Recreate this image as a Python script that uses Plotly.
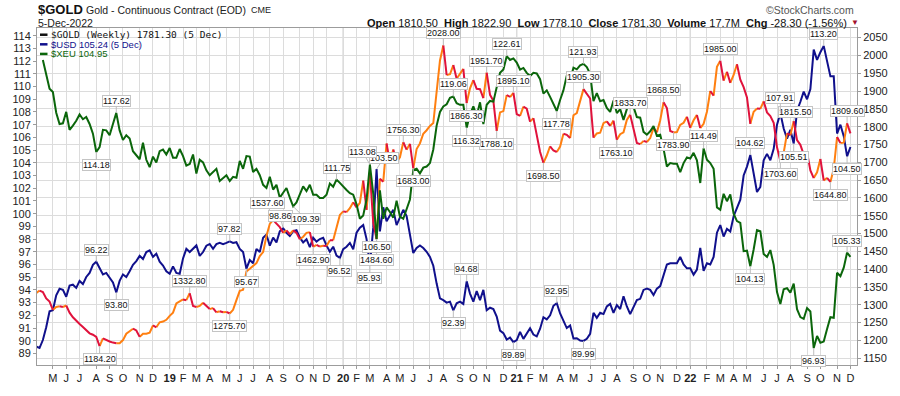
import plotly.graph_objects as go
import pandas as pd

# ---------------- data (weekly, Monday of each week) ----------------
week_start = "2018-04-02"
n_weeks = 245

gold = [1333.0, 1340.0, 1336.0, 1318.0, 1309.0, 1286.0, 1294.0, 1296.0, 1294.0, 1298.0,
        1278.0, 1265.0, 1254.0, 1246.0, 1238.0, 1229.0, 1220.0, 1216.0, 1210.0, 1184.2,
        1206.0, 1201.0, 1197.0, 1194.0, 1192.0, 1192.0, 1201.0, 1219.0, 1226.0, 1233.0,
        1228.0, 1210.0, 1219.0, 1219.0, 1222.0, 1242.0, 1237.0, 1251.0, 1253.0, 1258.0,
        1269.0, 1278.0, 1304.0, 1309.0, 1315.0, 1313.0, 1332.8, 1297.0, 1294.0, 1297.0,
        1306.0, 1297.0, 1288.0, 1291.0, 1279.0, 1282.0, 1279.0, 1280.0, 1275.7, 1286.0,
        1313.0, 1339.0, 1342.0, 1394.0, 1401.0, 1408.0, 1417.0, 1437.0, 1448.0, 1493.0,
        1527.0, 1537.6, 1527.0, 1518.0, 1502.0, 1509.0, 1498.0, 1509.0, 1502.0, 1484.0,
        1491.0, 1502.0, 1504.0, 1462.9, 1468.5, 1463.6, 1465.6, 1465.1, 1481.2, 1481.1,
        1515.1, 1552.4, 1562.3, 1560.3, 1571.4, 1587.9, 1573.4, 1586.4, 1648.8, 1566.7,
        1672.4, 1529.8, 1484.6, 1654.1, 1645.7, 1752.8, 1698.9, 1735.6, 1700.9, 1713.9,
        1756.3, 1735.5, 1751.7, 1683.0, 1737.3, 1753.0, 1780.3, 1790.0, 1801.9, 1810.0,
        1897.5, 1985.9, 2028.0, 1944.7, 1947.0, 1972.9, 1934.3, 1947.9, 1962.1, 1866.3,
        1907.6, 1930.4, 1906.4, 1905.2, 1879.9, 1951.7, 1889.3, 1872.4, 1788.1, 1840.0,
        1843.6, 1888.9, 1883.2, 1895.1, 1835.4, 1830.0, 1856.0, 1850.3, 1814.1, 1824.0,
        1777.4, 1728.8, 1698.5, 1719.0, 1745.0, 1733.1, 1729.0, 1744.0, 1780.0, 1777.0,
        1768.0, 1832.0, 1838.0, 1876.0, 1905.3, 1892.0, 1879.0, 1769.0, 1781.0, 1783.0,
        1810.0, 1815.0, 1802.0, 1817.0, 1763.1, 1779.0, 1784.0, 1819.0, 1833.7, 1792.0,
        1754.0, 1751.0, 1760.0, 1757.0, 1768.0, 1796.0, 1784.0, 1818.0, 1868.5, 1852.0,
        1788.0, 1783.9, 1784.8, 1805.0, 1811.0, 1828.0, 1797.0, 1818.0, 1833.0, 1796.0,
        1808.0, 1842.0, 1900.0, 1887.0, 1968.0, 1985.0, 1929.0, 1954.0, 1923.0, 1945.0,
        1975.0, 1932.0, 1911.0, 1882.0, 1808.0, 1842.0, 1851.0, 1850.0, 1871.0, 1840.0,
        1830.0, 1811.0, 1742.0, 1703.6, 1727.0, 1781.0, 1776.0, 1815.5, 1762.0, 1749.0,
        1722.0, 1728.0, 1677.0, 1655.6, 1672.0, 1709.3, 1648.9, 1656.3, 1644.8, 1681.4,
        1771.0, 1754.0, 1755.0, 1809.6, 1781.3]

usd = [89.55, 89.43, 90.06, 91.07, 92.32, 92.40, 93.58, 94.09, 94.01, 93.46,
       94.34, 94.41, 94.16, 94.71, 94.46, 95.02, 95.34, 95.97, 96.22, 95.77,
       95.22, 95.34, 94.97, 94.59, 93.80, 94.71, 95.22, 95.02, 95.47, 95.97,
       96.27, 96.68, 96.43, 96.98, 97.11, 96.60, 96.85, 96.22, 95.92, 95.47,
       95.27, 95.85, 95.34, 95.27, 96.48, 97.23, 96.98, 97.23, 97.50, 96.68,
       96.98, 97.48, 97.61, 97.23, 97.60, 97.70, 97.60, 97.70, 97.82, 97.69,
       97.75, 97.23, 96.98, 95.67, 96.35, 96.10, 97.23, 96.98, 98.11, 98.36,
       97.48, 98.11, 97.74, 98.62, 98.86, 98.49, 98.24, 98.62, 98.69, 98.11,
       97.74, 97.99, 97.36, 98.10, 97.80, 98.00, 98.10, 97.50, 97.00, 97.40,
       96.70, 96.52, 97.20, 97.40, 97.70, 97.20, 98.50, 98.90, 99.10, 98.00,
       95.93, 98.90, 103.50, 98.60, 100.50, 99.40, 99.90, 100.30, 99.10, 99.70,
       100.30, 99.80, 98.30, 96.90, 97.30, 97.50, 97.30, 97.00, 96.60, 95.90,
       94.50, 93.33, 93.20, 93.00, 93.08, 92.39, 92.95, 93.08, 92.90, 94.68,
       93.71, 93.08, 93.91, 93.20, 94.01, 92.40, 92.60, 92.50, 91.90, 90.80,
       90.60, 90.10, 90.25, 89.89, 90.05, 90.70, 90.15, 90.55, 90.98, 90.49,
       90.35, 90.95, 91.85, 91.68, 92.00, 92.75, 92.95, 92.15, 91.57, 91.00,
       91.20, 90.18, 90.20, 90.02, 89.99, 90.15, 90.55, 92.20, 91.80, 92.20,
       92.10, 92.70, 92.90, 92.20, 92.80, 92.50, 93.50, 92.70, 92.10, 92.60,
       93.20, 93.30, 94.00, 94.10, 94.00, 93.60, 94.10, 94.30, 95.10, 96.00,
       96.10, 96.10, 96.10, 96.60, 96.00, 95.70, 95.70, 95.20, 95.60, 97.30,
       95.50, 96.10, 96.00, 96.60, 98.50, 99.10, 98.20, 98.80, 98.60, 99.80,
       100.50, 101.10, 103.00, 103.70, 104.62, 103.10, 101.70, 102.10, 104.20, 104.70,
       104.20, 105.10, 107.00, 107.91, 106.70, 105.90, 106.60, 105.51, 108.10, 108.80,
       109.60, 109.00, 109.80, 112.90, 112.10, 112.70, 113.20, 112.00, 110.80, 110.80,
       106.30, 107.00, 106.10, 104.50, 105.24]

xeu = [None, None, 122.27, 120.86, 119.74, 119.45, 117.63, 116.64, 116.70, 117.71,
       116.13, 116.50, 116.92, 117.48, 117.06, 117.26, 116.64, 115.79, 114.18, 114.60,
       116.13, 116.08, 115.65, 116.64, 117.62, 116.08, 115.23, 115.65, 115.37, 114.25,
       113.88, 113.54, 115.00, 113.49, 112.84, 113.77, 113.26, 114.25, 114.39, 113.96,
       114.53, 113.68, 113.68, 114.44, 113.82, 112.98, 113.12, 113.96, 112.28, 113.49,
       113.26, 112.56, 112.13, 112.42, 112.70, 111.63, 111.85, 112.13, 111.63, 111.99,
       111.91, 113.40, 112.70, 113.82, 113.77, 112.42, 112.70, 112.13, 111.29, 111.01,
       111.99, 110.87, 111.29, 110.16, 110.59, 111.01, 110.16, 109.39, 109.74, 110.45,
       111.15, 110.73, 111.30, 110.42, 110.42, 110.14, 110.14, 110.42, 111.40, 111.12,
       111.75, 111.46, 111.12, 110.84, 110.56, 110.42, 109.57, 108.31, 108.59, 110.00,
       113.08, 110.50, 106.50, 110.80, 108.30, 109.30, 108.90, 108.40, 109.90, 108.50,
       108.30, 109.10, 110.00, 112.60, 112.70, 112.30, 112.80, 112.90, 113.20, 114.40,
       116.50, 117.70, 118.19, 118.38, 118.95, 119.06, 118.47, 118.33, 118.33, 116.32,
       117.48, 118.19, 117.34, 118.55, 116.64, 118.33, 118.67, 118.61, 119.88, 121.14,
       121.43, 122.61, 122.27, 122.41, 122.04, 121.43, 121.57, 121.14, 120.86, 121.14,
       121.09, 120.58, 119.31, 119.60, 119.03, 118.33, 117.78, 118.75, 119.60, 120.90,
       120.50, 121.60, 121.45, 121.80, 121.93, 121.65, 121.05, 118.65, 119.35, 118.65,
       118.75, 118.05, 117.70, 118.70, 117.60, 117.95, 117.00, 117.95, 118.80, 118.15,
       117.25, 117.20, 115.95, 115.70, 116.00, 116.45, 115.60, 115.70, 114.45, 112.90,
       113.20, 113.15, 113.15, 112.40, 113.20, 113.70, 113.60, 114.10, 113.45, 111.45,
       114.49, 113.50, 113.20, 112.70, 109.30, 109.10, 110.50, 109.85, 110.45, 108.75,
       108.10, 107.95, 105.45, 105.50, 104.13, 105.60, 107.30, 107.20, 105.20, 104.95,
       105.55, 104.25, 101.85, 100.80, 102.10, 102.20, 101.80, 102.60, 100.35, 99.65,
       99.50, 100.45, 100.15, 96.93, 98.00, 97.40, 97.50, 98.60, 99.65, 99.60,
       103.55, 103.25, 104.00, 105.33, 104.95]

# swing-point labels: (week index, "a" above / "b" below)
gold_labels = [(19, "b"), (46, "a"), (58, "b"), (71, "a"), (83, "b"), (102, "b"), (110, "a"),
               (113, "b"), (122, "a"), (129, "b"), (135, "a"), (138, "b"), (143, "a"),
               (152, "b"), (164, "a"), (174, "b"), (178, "a"), (188, "a"), (191, "b"),
               (205, "a"), (223, "b"), (227, "a"), (238, "b"), (243, "a")]
usd_labels = [(18, "a"), (24, "b"), (58, "a"), (63, "b"), (74, "a"), (91, "b"), (100, "b"),
              (102, "a"), (125, "b"), (129, "a"), (143, "b"), (156, "a"), (164, "b"),
              (214, "a"), (223, "a"), (227, "b"), (236, "a"), (243, "b")]
xeu_labels = [(18, "b"), (24, "a"), (77, "b"), (90, "a"), (100, "a"), (102, "b"), (125, "a"),
              (129, "b"), (141, "a"), (156, "b"), (164, "a"), (200, "a"), (214, "b"),
              (233, "b"), (243, "a")]

month_letters = ["J", "F", "M", "A", "M", "J", "J", "A", "S", "O", "N", "D"]

# ---------------- styling ----------------
C_UP = "#ff7f10"
C_DN = "#e0123c"
C_USD = "#10108c"
C_XEU = "#0b660b"
GRID = "#dcdcdc"
AXIS = "#9c9c9c"
FONT = "Liberation Sans, Arial, sans-serif"

# small offsets (px) for crowded labels: (series, week) -> (ax, ay)
nudge = {("gold", 71): (-6, -17), ("usd", 74): (-3, -12), ("xeu", 77): (13, 13),
         ("xeu", 100): (-7, -12), ("usd", 102): (7, -11),
         ("xeu", 102): (0, 8), ("gold", 102): (0, 21),
         ("usd", 223): (0, -15), ("gold", 227): (2, -9)}

dates = pd.date_range(week_start, periods=n_weeks, freq="7D")
xs = [d.strftime("%Y-%m-%d") for d in dates]

# plot area in pixels
L, R, T, B = 37, 857, 28, 379
def px(x):
    return (x - L) / (R - L)
def py(y):
    return (B - y) / (B - T)

fig = go.Figure()

fig.add_trace(go.Scatter(x=xs, y=xeu, yaxis="y3", mode="lines",
                         line=dict(color=C_XEU, width=2), hoverinfo="skip"))
fig.add_trace(go.Scatter(x=xs, y=usd, yaxis="y", mode="lines",
                         line=dict(color=C_USD, width=2), hoverinfo="skip"))

# gold: colour each run by direction
runs = {"up": ([], []), "dn": ([], [])}
cur = None
for i in range(len(gold) - 1):
    d = "up" if gold[i + 1] >= gold[i] else "dn"
    rx, ry = runs[d]
    if d != cur:
        if cur is not None:
            runs[cur][0].append(None)
            runs[cur][1].append(None)
        rx.append(xs[i]); ry.append(gold[i])
        cur = d
    rx.append(xs[i + 1]); ry.append(gold[i + 1])
for d, col in (("up", C_UP), ("dn", C_DN)):
    fig.add_trace(go.Scatter(x=runs[d][0], y=runs[d][1], yaxis="y2", mode="lines",
                             line=dict(color=col, width=2), connectgaps=False,
                             hoverinfo="skip"))

# month ticks at first weekly bar of each month
tickvals, ticktext = [], []
seen = set()
year_lines = []
for d in dates:
    key = (d.year, d.month)
    if key in seen:
        continue
    seen.add(key)
    if d <= dates[0]:
        continue
    tickvals.append(d.strftime("%Y-%m-%d"))
    if d.month == 1:
        ticktext.append("<b>%02d</b>" % (d.year % 100))
        year_lines.append(d.strftime("%Y-%m-%d"))
    else:
        ticktext.append(month_letters[d.month - 1])

x_left = dates[0] + pd.Timedelta(days=7 * 0.24)
x_right = dates[0] + pd.Timedelta(days=7 * 245.97)

annotations = []
def add_labels(name, series, labels, yref):
    for k, pos in labels:
        v = series[k]
        ax, ay = nudge.get((name, k), (0, -12 if pos == "a" else 13))
        annotations.append(dict(
            x=xs[k], y=v, xref="x", yref=yref, text="%.2f" % v,
            showarrow=True, arrowhead=0, arrowwidth=1, arrowcolor="#bdbdbd",
            ax=ax, ay=ay,
            bgcolor="white", bordercolor="#c4c4c4", borderwidth=1, borderpad=0,
            font=dict(family=FONT, size=9, color="#111")))
add_labels("gold", gold, gold_labels, "y2")
add_labels("usd", usd, usd_labels, "y")
add_labels("xeu", xeu, xeu_labels, "y3")

def txt(x, y, text, size, color="#111", anchor="left", family=FONT):
    annotations.append(dict(x=px(x), y=py(y), xref="paper", yref="paper", text=text,
                            showarrow=False, xanchor=anchor, yanchor="middle",
                            font=dict(family=family, size=size, color=color)))

nb = "\u00a0"
txt(36, 9, "<b>$GOLD</b>", 13, "#111")
txt(84, 9, "Gold - Continuous Contract (EOD)", 10.5, "#222")
txt(249, 9.5, "CME", 9, "#222")
txt(36, 23, "5-Dec-2022", 10.5, "#222")
hdr = (f"<b>Open</b> 1810.50{nb}{nb}<b>High</b> 1822.90{nb}{nb}<b>Low</b> 1778.10{nb}{nb}"
       f"<b>Close</b> 1781.30{nb}{nb}<b>Volume</b> 17.7M{nb}{nb}<b>Chg</b> -28.30 (-1.56%)")
txt(849, 23, hdr, 11, "#111", anchor="right")
txt(849, 22.5, "\u25bc", 8, "#a3102c")
txt(856, 9, "\u00a9StockCharts.com", 10.5, "#555", anchor="right")

txt(49, 35, "$GOLD (Weekly) 1781.30 (5 Dec)", 9.5, "#111",
    family="DejaVu Sans Mono, monospace")
txt(49, 45, "$USD 105.24 (5 Dec)", 9.5, C_USD)
txt(49, 55, "$XEU 104.95", 9.5, C_XEU)

shapes = []
for yl in year_lines:
    shapes.append(dict(type="line", xref="x", yref="paper", x0=yl, x1=yl, y0=0, y1=1,
                       line=dict(color="#b0b0b0", width=1), layer="below"))
for yy, col in ((35, "#111"), (45, C_USD), (55, C_XEU)):
    shapes.append(dict(type="line", xref="paper", yref="paper", x0=px(40), x1=px(47.5),
                       y0=py(yy), y1=py(yy), line=dict(color=col, width=2.5)))

fig.update_layout(
    width=900, height=396,
    margin=dict(l=L, r=900 - R, t=T, b=396 - B),
    paper_bgcolor="white", plot_bgcolor="white",
    showlegend=False, hovermode=False,
    annotations=annotations, shapes=shapes,
    xaxis=dict(type="date", range=[x_left.isoformat(), x_right.isoformat()],
               tickmode="array", tickvals=tickvals, ticktext=ticktext,
               showgrid=True, gridcolor=GRID, gridwidth=1,
               showline=True, linecolor=AXIS, mirror=True,
               ticks="outside", ticklen=3, tickcolor=AXIS, zeroline=False,
               tickfont=dict(family=FONT, size=11, color="#222")),
    yaxis=dict(range=[88.094, 114.604], tickmode="array", tickvals=list(range(89, 115)),
               showgrid=False, zeroline=False, showline=True, linecolor=AXIS, mirror=True,
               ticks="outside", ticklen=3, tickcolor=AXIS,
               tickfont=dict(family=FONT, size=11, color="#222")),
    yaxis2=dict(overlaying="y", side="right", range=[1131.1, 2076.9],
                tickmode="array", tickvals=list(range(1150, 2051, 50)),
                showgrid=True, gridcolor=GRID, zeroline=False, showline=True,
                linecolor=AXIS, ticks="outside", ticklen=3, tickcolor=AXIS,
                tickfont=dict(family=FONT, size=11, color="#222")),
    yaxis3=dict(overlaying="y", range=[95.44, 125.085], visible=False),
)

fig.write_html("out.html", config={"displayModeBar": False, "staticPlot": True})

# remove the browser's default page margin so the figure sits at the top-left corner
with open("out.html", "r", encoding="utf-8") as fh:
    page = fh.read()
page = page.replace("<head>", "<head><style>html,body{margin:0;padding:0;overflow:hidden;}</style>", 1)
with open("out.html", "w", encoding="utf-8") as fh:
    fh.write(page)
